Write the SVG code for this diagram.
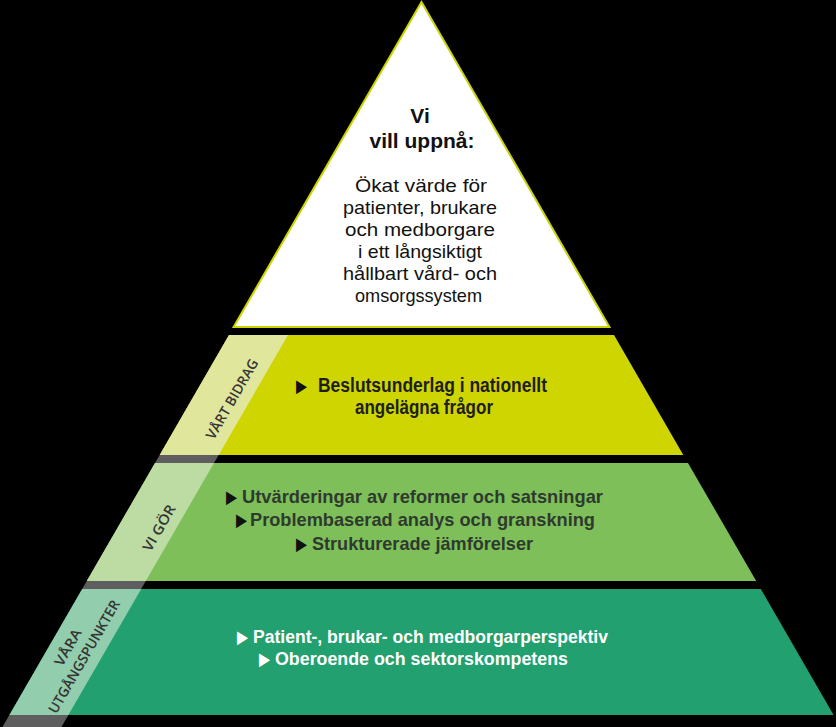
<svg xmlns="http://www.w3.org/2000/svg" width="836" height="727" viewBox="0 0 836 727">
<style>
.top{font-family:"Liberation Sans",Arial,sans-serif;font-size:19px;fill:#111;text-anchor:middle}
.topb{font-family:"Liberation Sans",Arial,sans-serif;font-size:21px;font-weight:bold;fill:#111;text-anchor:middle}
.b{font-family:"Liberation Sans",Arial,sans-serif;font-weight:bold}
.y{font-size:19.5px;fill:#1e1e1e}
.g{font-size:18.5px;fill:#2e3a2e}
.d{font-size:18px;fill:#ffffff}
.bul{font-family:"DejaVu Sans",sans-serif;font-size:18px}
.side{font-family:"Open Sans","Liberation Sans",Arial,sans-serif;font-size:14px;font-weight:600;fill:#353535;text-anchor:middle}
</style>
<rect x="0" y="0" width="836" height="727" fill="#000"/>
<g id="connectors"/>
<g id="goal">
<polygon points="421.5,2 609.4,327 233.6,327" fill="#ffffff" stroke="#c9d400" stroke-width="2" stroke-linejoin="miter"/>
<text class="topb" x="420" y="123">Vi</text>
<text class="topb" x="422" y="148">vill uppnå:</text>
<text class="top" x="421" y="192" textLength="132" lengthAdjust="spacingAndGlyphs">Ökat värde för</text>
<text class="top" x="420" y="214" textLength="154" lengthAdjust="spacingAndGlyphs">patienter, brukare</text>
<text class="top" x="420" y="236" textLength="150" lengthAdjust="spacingAndGlyphs">och medborgare</text>
<text class="top" x="420" y="258" textLength="124" lengthAdjust="spacingAndGlyphs">i ett långsiktigt</text>
<text class="top" x="420" y="280" textLength="154" lengthAdjust="spacingAndGlyphs">hållbart vård- och</text>
<text class="top" x="418.5" y="302" textLength="127" lengthAdjust="spacingAndGlyphs">omsorgssystem</text>
</g>
<g id="bidrag">
<polygon points="229,335 614,335 683.3,455 159.7,455" fill="#cfd500"/>
<polygon points="229,335 288,335 218.7,455 159.7,455" fill="#e0e69c"/>
<text class="bul" x="296" y="392" fill="#111" textLength="11" lengthAdjust="spacingAndGlyphs">▶</text>
<text class="b y" x="318" y="392" textLength="229" lengthAdjust="spacingAndGlyphs">Beslutsunderlag i nationellt</text>
<text class="b y" x="355" y="414" textLength="138" lengthAdjust="spacingAndGlyphs">angelägna frågor</text>
<text class="side" transform="translate(232,399) rotate(-60)" x="0" y="5" textLength="90" lengthAdjust="spacingAndGlyphs">VÅRT BIDRAG</text>
</g>
<g id="gor">
<polygon points="155,463 688,463 756.2,581 86.8,581" fill="#7ebf5a"/>
<polygon points="155,463 214,463 145.8,581 86.8,581" fill="#bcdca4"/>
<text class="bul" x="226" y="503" fill="#111" textLength="11" lengthAdjust="spacingAndGlyphs">▶</text>
<text class="b g" x="242" y="503" textLength="361" lengthAdjust="spacingAndGlyphs">Utvärderingar av reformer och satsningar</text>
<text class="bul" x="236" y="526" fill="#111" textLength="11" lengthAdjust="spacingAndGlyphs">▶</text>
<text class="b g" x="250" y="526" textLength="345" lengthAdjust="spacingAndGlyphs">Problembaserad analys och granskning</text>
<text class="bul" x="296" y="550" fill="#111" textLength="11" lengthAdjust="spacingAndGlyphs">▶</text>
<text class="b g" x="312" y="550" textLength="221" lengthAdjust="spacingAndGlyphs">Strukturerade jämförelser</text>
<text class="side" transform="translate(159,528) rotate(-60)" x="0" y="5" textLength="51" lengthAdjust="spacingAndGlyphs">VI GÖR</text>
</g>
<g id="utgangspunkter">
<polygon points="82.2,589 760.8,589 833.6,715 9.4,715" fill="#22a06f"/>
<polygon points="82.2,589 141.2,589 68.4,715 9.4,715" fill="#92cdae"/>
<text class="bul" x="237" y="643" fill="#fff" textLength="11" lengthAdjust="spacingAndGlyphs">▶</text>
<text class="b d" x="253" y="643" textLength="355" lengthAdjust="spacingAndGlyphs">Patient-, brukar- och medborgarperspektiv</text>
<text class="bul" x="259" y="665" fill="#fff" textLength="11" lengthAdjust="spacingAndGlyphs">▶</text>
<text class="b d" x="275" y="665" textLength="293" lengthAdjust="spacingAndGlyphs">Oberoende och sektorskompetens</text>
<g transform="translate(76,652) rotate(-60)">
<text class="side" x="0" y="-4.4" textLength="40" lengthAdjust="spacingAndGlyphs">VÅRA</text>
<text class="side" x="0" y="14.2" textLength="128" lengthAdjust="spacingAndGlyphs">UTGÅNGSPUNKTER</text>
</g>
</g>
<g id="strip-gaps" fill="#5e5e5e">
<polygon points="159.7,455 218.7,455 214,463 155,463"/>
<polygon points="86.8,581 145.8,581 141.2,589 82.2,589"/>
<polygon points="9.4,715 68.4,715 61.4,727 2.4,727"/>
</g>
</svg>
